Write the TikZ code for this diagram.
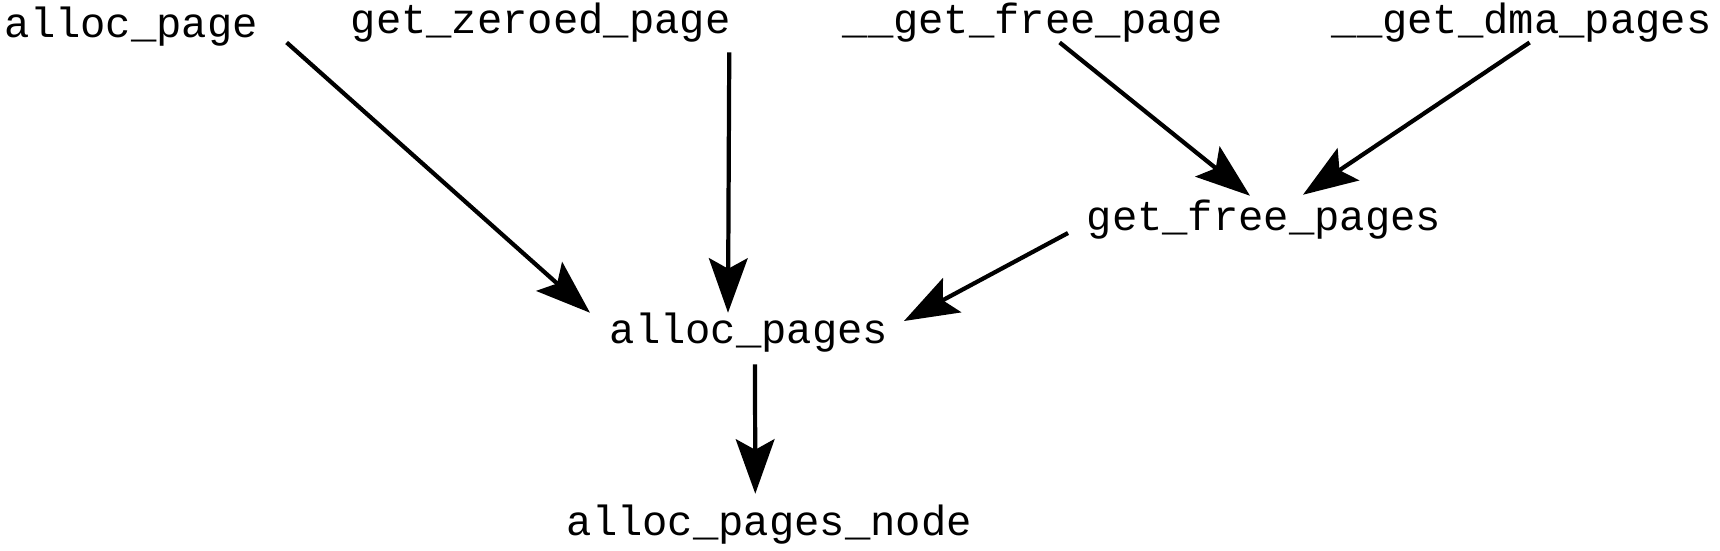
\documentclass[tikz,border=0pt]{standalone}
\usepackage{fontspec}
\newfontfamily\codefont{Liberation Mono}
\usetikzlibrary{arrows.meta}

\begin{document}
\begin{tikzpicture}[x=0.01cm,y=-0.01cm,
 fn/.style={font=\codefont\fontsize{12}{14}\selectfont,inner sep=0pt,anchor=base west},
 call/.style={-{Stealth[length=15.5pt,width=11pt,inset=3pt]},line width=1.2pt,draw=black}]
\useasboundingbox (0,0) rectangle (1720,550);
% callers
\node[fn] (allocpage) at (4,37) {alloc\_page};
\node[fn] (zeroed) at (350,33) {get\_zeroed\_page};
\node[fn] (freepage) at (842,33) {\_\_get\_free\_page};
\node[fn] (dmapages) at (1331,33) {\_\_get\_dma\_pages};
\node[fn] (freepages) at (1086,230) {get\_free\_pages};
\node[fn] (allocpages) at (609,343) {alloc\_pages};
\node[fn] (allocnode) at (566,535) {alloc\_pages\_node};
\draw[call] ([shift={(28,-4)}]allocpage.south east) -- ([shift={(-19,1)}]allocpages.north west);
\draw[call] ([shift={(-2,10)}]zeroed.south east) -- ([shift={(119,1)}]allocpages.north west);
\draw[call] ([shift={(-18,3)}]freepages.base west) -- ([shift={(15,-22)}]allocpages.base east);
\draw[call] ([shift={(27,0)}]freepage.south) -- ([shift={(164,-3)}]freepages.north west);
\draw[call] ([shift={(8,0)}]dmapages.south) -- ([shift={(217,-4)}]freepages.north west);
\draw[call] ([shift={(6,12)}]allocpages.south) -- ([shift={(-14,-10)}]allocnode.north);
\end{tikzpicture}
\end{document}
